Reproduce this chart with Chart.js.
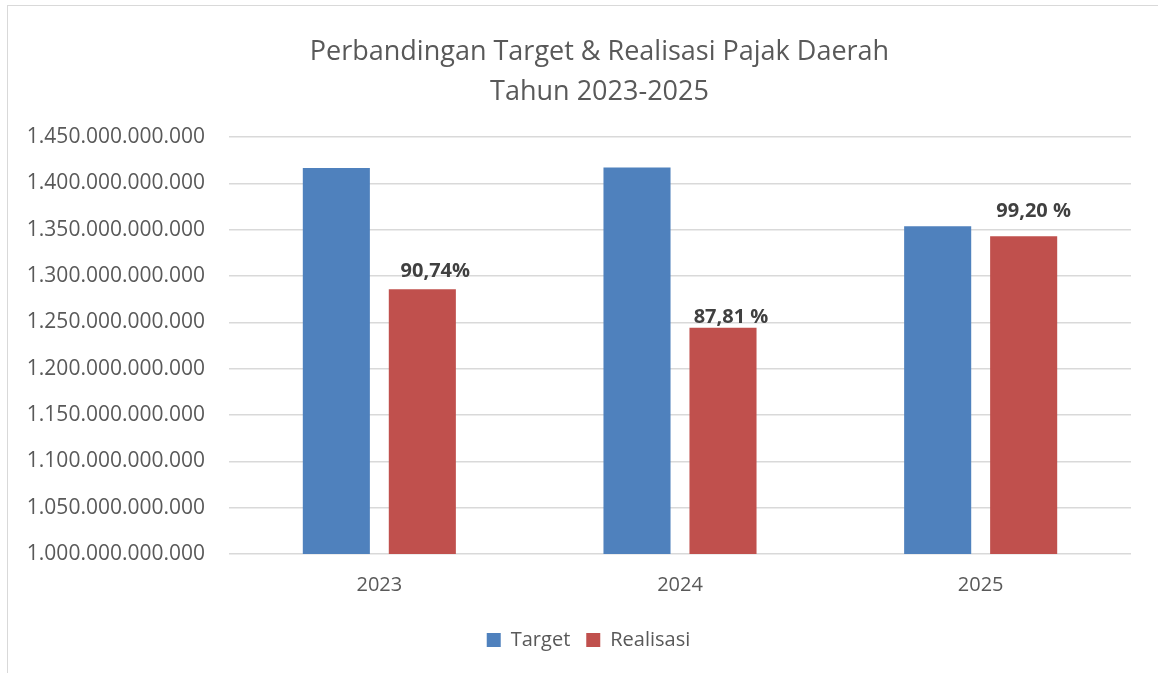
<!DOCTYPE html>
<html>
<head>
<meta charset="utf-8">
<script src="https://cdn.jsdelivr.net/npm/chart.js@4"></script>
<style>
  body { margin: 0; background: #fff; }
  #frame { position: absolute; left: 7px; top: 5px; width: 1160px; height: 680px;
           border-left: 1px solid #d9d9d9; border-top: 1px solid #d9d9d9; }
  #wrap { position: absolute; left: 0; top: 0; width: 1158px; height: 673px; }
</style>
</head>
<body>
<div id="frame"></div>
<div id="wrap"><canvas id="barChart" width="1158" height="673"></canvas></div>
<script>
var years = ['2023', '2024', '2025'];
var target = [1416600000000, 1417000000000, 1353600000000];
var realisasi = [1285700000000, 1244000000000, 1342800000000];
var persen = ['90,74%', '87,81 %', '99,20 %'];
var yMin = 1000000000000, yMax = 1450000000000, yStep = 50000000000;

function titik(v) {
  return String(Math.round(v)).replace(/\B(?=(\d{3})+(?!\d))/g, '.');
}

// persentase di atas batang realisasi (geser sedikit seperti di Excel)
var persenLabel = {
  id: 'persenLabel',
  afterLayout: function (chart, args, opts) {
    // judul & legend di Excel agak ke kanan
    chart.titleBlock.left += opts.titleShift;
    chart.legend.left += opts.legendShift;
  },
  afterDatasetsDraw: function (chart, args, opts) {
    var ctx = chart.ctx;
    var meta = chart.getDatasetMeta(1);
    ctx.save();
    ctx.font = 'bold 20px "Open Sans"';
    ctx.fillStyle = '#404040';
    ctx.textAlign = 'center';
    ctx.textBaseline = 'middle';
    meta.data.forEach(function (bar, i) {
      ctx.fillText(persen[i], bar.x + opts.dx[i], bar.y - opts.dy[i]);
    });
    ctx.restore();
  }
};

var ctx = document.getElementById('barChart').getContext('2d');
var myChart = new Chart(ctx, {
  type: 'bar',
  data: {
    labels: years,
    datasets: [{
      label: 'Target',
      data: target,
      backgroundColor: '#4f81bd'
    }, {
      label: 'Realisasi',
      data: realisasi,
      backgroundColor: '#c0504d'
    }]
  },
  options: {
    responsive: false,
    animation: false,
    categoryPercentage: 0.572,
    barPercentage: 0.78,
    layout: { padding: { left: 0, right: 27, top: 0, bottom: 13 } },
    scales: {
      x: {
        grid: { display: false, drawTicks: false },
        border: { display: false },
        ticks: { padding: 19, color: '#595959', font: { family: 'Open Sans', size: 20 } },
        afterFit: function (s) { s.height = 60; }
      },
      y: {
        min: yMin,
        max: yMax,
        grid: { color: '#d9d9d9', lineWidth: 1.5, drawTicks: false },
        border: { display: false },
        ticks: {
          stepSize: yStep,
          padding: 24,
          color: '#595959',
          font: { family: 'Open Sans', size: 21 },
          callback: function (v) { return titik(v); }
        },
        afterFit: function (s) { s.width = 229; }
      }
    },
    plugins: {
      title: {
        display: true,
        text: ['Perbandingan Target & Realisasi Pajak Daerah', 'Tahun 2023-2025'],
        color: '#595959',
        font: { family: 'Open Sans', size: 27, weight: 'normal', lineHeight: 1.48 },
        padding: { top: 32, bottom: 25 }
      },
      legend: {
        position: 'bottom',
        labels: {
          boxWidth: 14,
          boxHeight: 14,
          padding: 16,
          color: '#595959',
          font: { family: 'Open Sans', size: 20 }
        }
      },
      tooltip: { enabled: false },
      persenLabel: { dx: [13, 8, 10], dy: [18, 11, 25], titleShift: 68, legendShift: 46 }
    }
  },
  plugins: [persenLabel]
});
</script>
</body>
</html>
